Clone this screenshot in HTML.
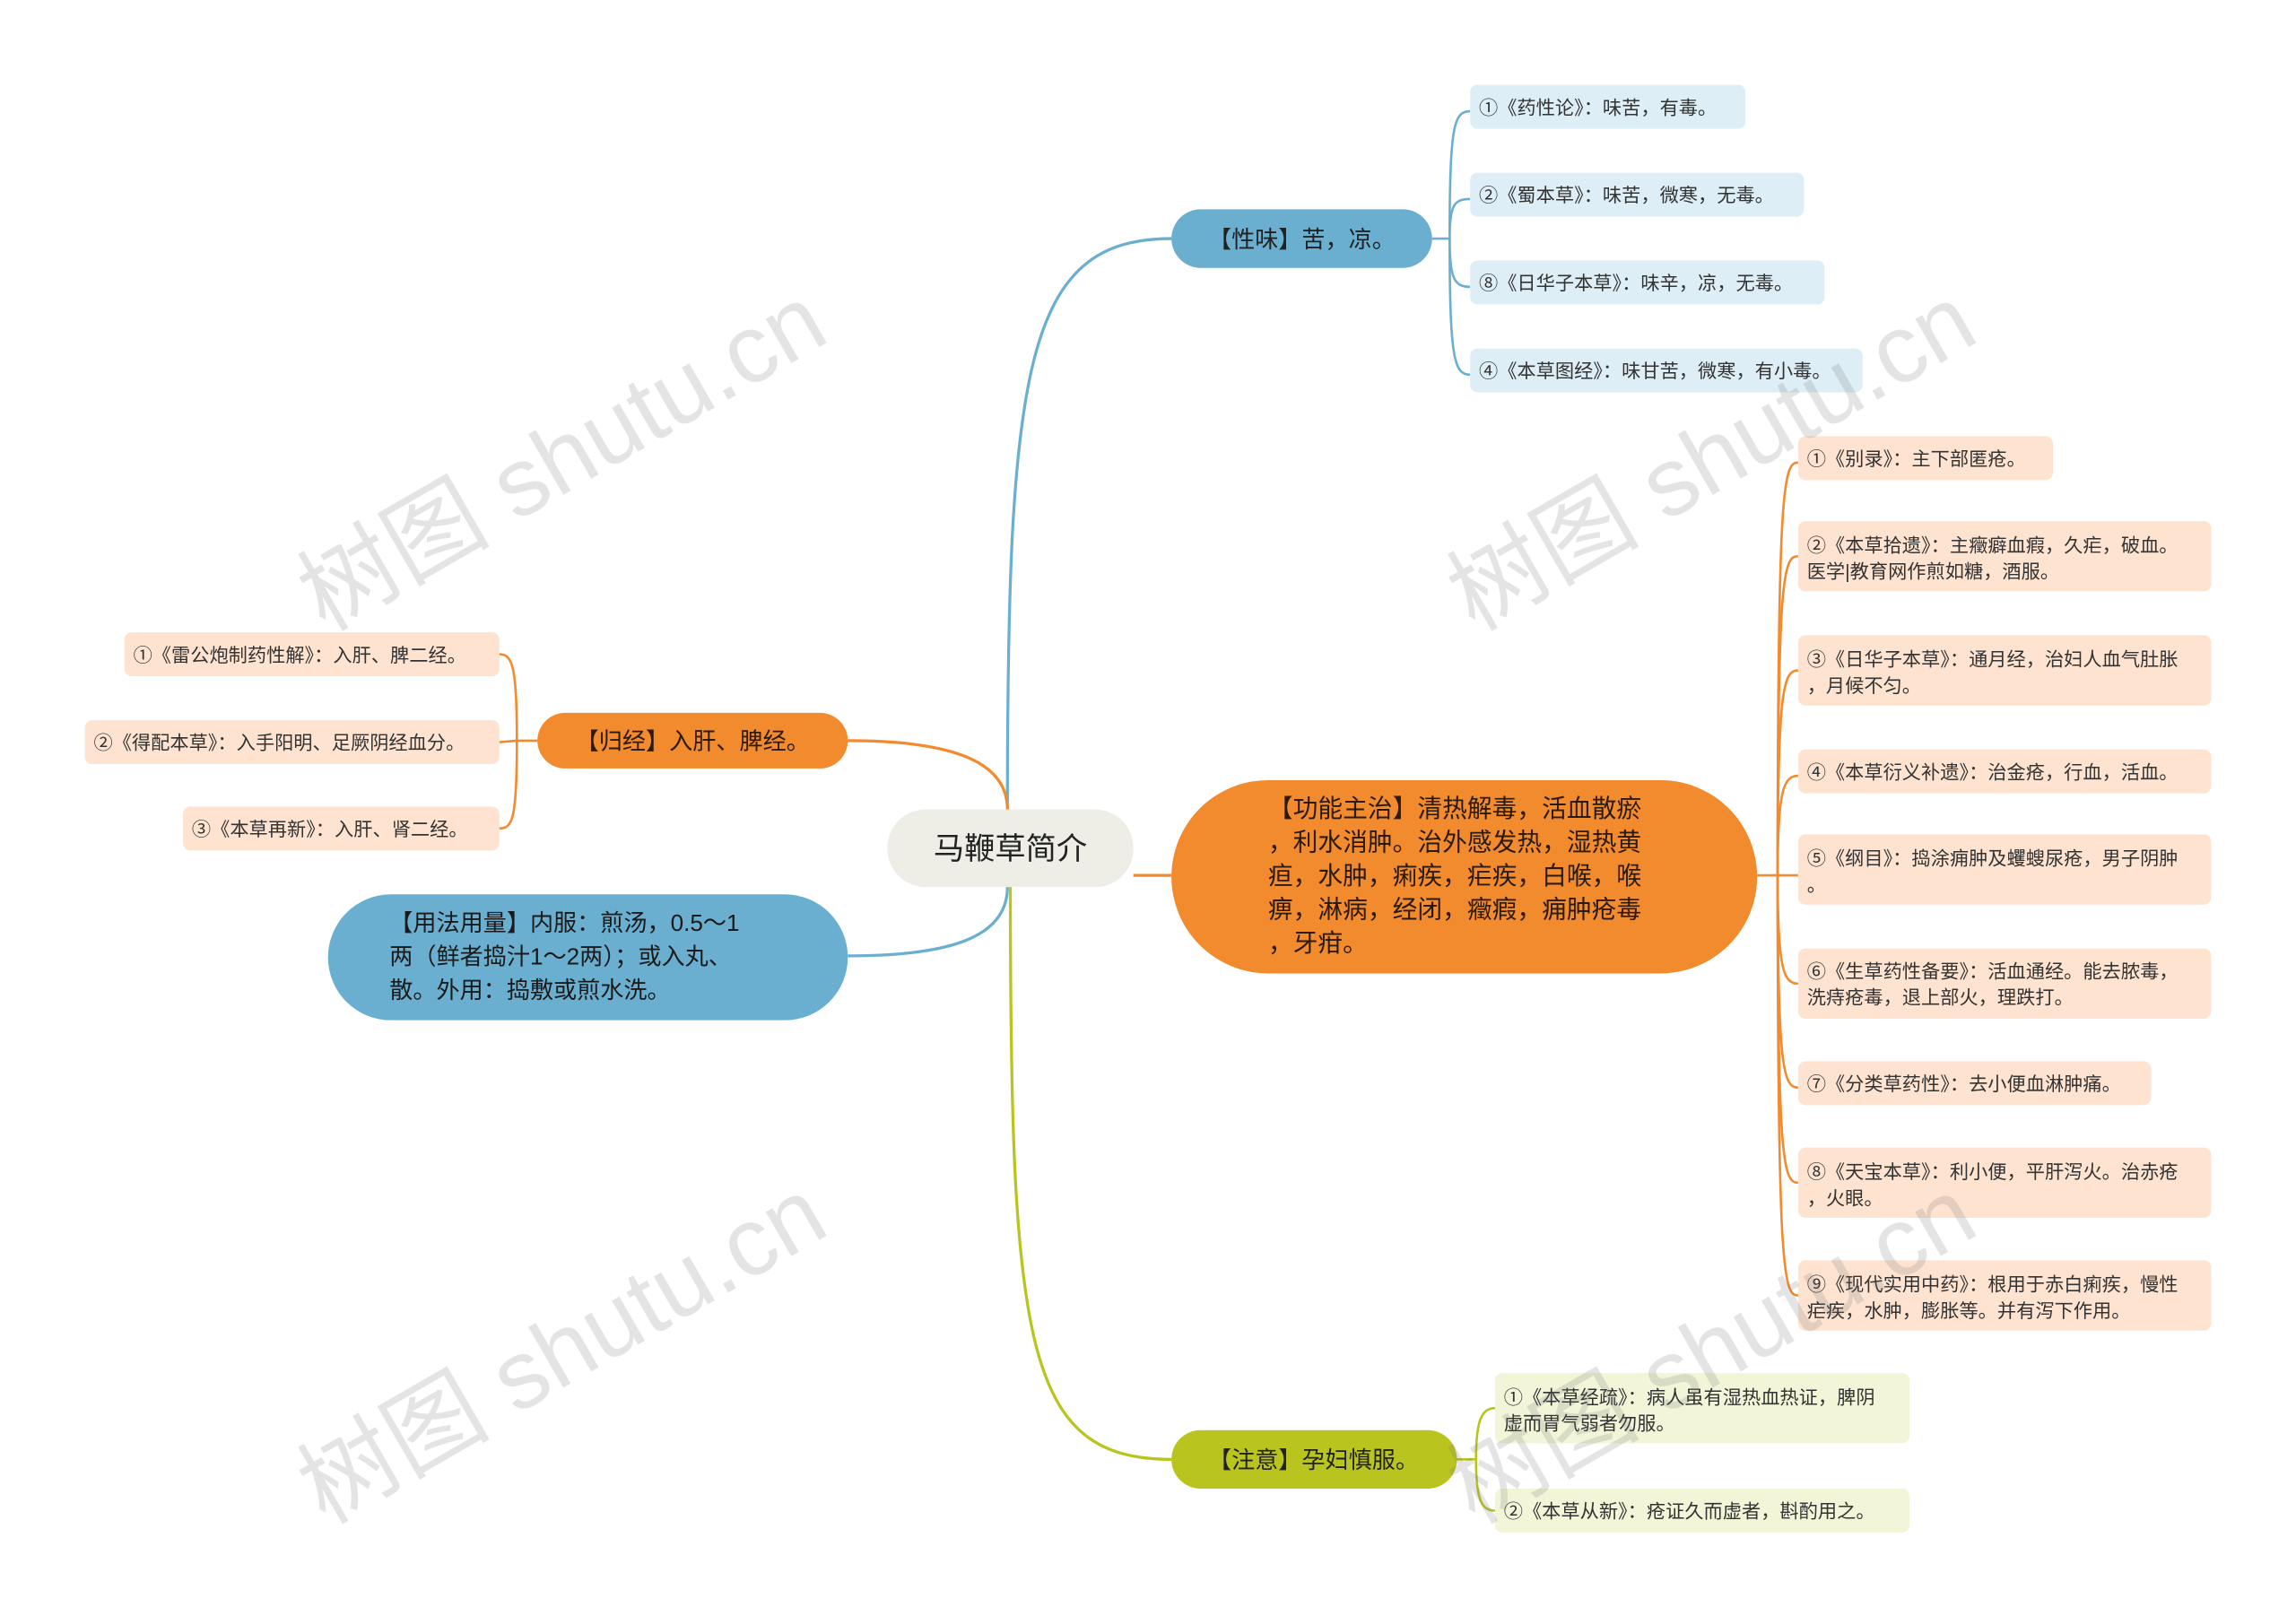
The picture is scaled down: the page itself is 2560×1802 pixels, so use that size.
<!DOCTYPE html>
<html><head><meta charset="utf-8"><style>
html,body{margin:0;padding:0;background:#fff;}
svg{display:block;}
text{font-family:"Liberation Sans","Noto Sans CJK SC",sans-serif;}
</style></head><body>
<svg width="2560" height="1802" viewBox="0 0 1568 1104" preserveAspectRatio="none" xmlns="http://www.w3.org/2000/svg">
<rect width="1568" height="1104" fill="#fff"/>
<g fill="none" stroke-width="2">
<path d="M688 553 C688 250 700 163 800 163" stroke="#6aafd0"/>
<path d="M688 553 C688 520 650 506 579 506" stroke="#f28a2e"/>
<path d="M774 598 L800 598" stroke="#f28a2e"/>
<path d="M688 606 C688 640 650 653 579 653" stroke="#6aafd0"/>
<path d="M690 606 C690 920 700 997 800 997" stroke="#b9c41e"/>
</g>
<g fill="none" stroke-width="1.6">
<g stroke="#6aafd0">
<path d="M978 163 L990 163"/>
<path d="M990 163 C990 85 993 76 1004 76"/>
<path d="M990 163 C990 140 993 136 1004 136"/>
<path d="M990 163 C990 190 993 196 1004 196"/>
<path d="M990 163 C990 245 993 256 1004 256"/>
</g>
<g stroke="#f28a2e">
<path d="M1200 598 L1214 598"/>
<path d="M1214 598 C1214 330 1218 316 1228 316"/>
<path d="M1214 598 C1214 392 1218 380 1228 380"/>
<path d="M1214 598 C1214 470 1218 458 1228 458"/>
<path d="M1214 598 C1214 540 1218 530 1228 530"/>
<path d="M1214 598 L1228 598"/>
<path d="M1214 598 C1214 662 1218 672 1228 672"/>
<path d="M1214 598 C1214 730 1218 743 1228 743"/>
<path d="M1214 598 C1214 795 1218 808 1228 808"/>
<path d="M1214 598 C1214 870 1218 885 1228 885"/>
<path d="M367 506 L353 506"/>
<path d="M353 506 C353 455 350 447 341 447"/>
<path d="M353 506 L341 507"/>
<path d="M353 506 C353 560 350 566 341 566"/>
</g>
<g stroke="#b9c41e">
<path d="M995 997 L1008 997"/>
<path d="M1008 997 C1008 970 1012 962 1021 962"/>
<path d="M1008 997 C1008 1025 1012 1032 1021 1032"/>
</g>
</g>
<rect x="606" y="553" width="168" height="53" rx="26" fill="#eeeee6"/>
<text x="690" y="587" font-size="21" fill="#222" text-anchor="middle">马鞭草简介</text>
<rect x="800" y="143" width="178" height="40" rx="20" fill="#6aafd0"/>
<text x="889" y="169" font-size="16" fill="#222" text-anchor="middle">【性味】苦，凉。</text>
<rect x="800" y="533" width="400" height="132" rx="66" fill="#f28a2e"/>
<g font-size="17" fill="#2a1a0a">
<text x="866" y="558">【功能主治】清热解毒，活血散瘀</text>
<text x="866" y="581">，利水消肿。治外感发热，湿热黄</text>
<text x="866" y="604">疸，水肿，痢疾，疟疾，白喉，喉</text>
<text x="866" y="627">痹，淋病，经闭，癥瘕，痈肿疮毒</text>
<text x="866" y="650">，牙疳。</text>
</g>
<rect x="367" y="487" width="212" height="38" rx="19" fill="#f28a2e"/>
<text x="473" y="512" font-size="16" fill="#2a1a0a" text-anchor="middle">【归经】入肝、脾经。</text>
<rect x="224" y="611" width="355" height="86" rx="43" fill="#6aafd0"/>
<g font-size="16" fill="#1a1a1a">
<text x="266" y="636">【用法用量】内服：煎汤，0.5～1</text>
<text x="266" y="659">两（鲜者捣汁1～2两）；或入丸、</text>
<text x="266" y="682">散。外用：捣敷或煎水洗。</text>
</g>
<rect x="800" y="977" width="195" height="40" rx="20" fill="#b9c41e"/>
<text x="897" y="1003" font-size="16" fill="#222" text-anchor="middle">【注意】孕妇慎服。</text>
<g font-size="13" fill="#333">
<rect x="1004" y="58" width="188" height="30" rx="5" fill="#ddeef6"/><text x="1010" y="78">①《药性论》：味苦，有毒。</text>
<rect x="1004" y="118" width="228" height="30" rx="5" fill="#ddeef6"/><text x="1010" y="138">②《蜀本草》：味苦，微寒，无毒。</text>
<rect x="1004" y="178" width="242" height="30" rx="5" fill="#ddeef6"/><text x="1010" y="198">⑧《日华子本草》：味辛，凉，无毒。</text>
<rect x="1004" y="238" width="268" height="30" rx="5" fill="#ddeef6"/><text x="1010" y="258">④《本草图经》：味甘苦，微寒，有小毒。</text>
</g>
<g font-size="13" fill="#333">
<rect x="1228" y="298" width="174" height="30" rx="5" fill="#fde3d0"/><text x="1234" y="318">①《别录》：主下部匿疮。</text>
<rect x="1228" y="356" width="282" height="48" rx="5" fill="#fde3d0"/><text x="1234" y="377">②《本草拾遗》：主癥癖血瘕，久疟，破血。</text><text x="1234" y="395">医学|教育网作煎如糖，酒服。</text>
<rect x="1228" y="434" width="282" height="48" rx="5" fill="#fde3d0"/><text x="1234" y="455">③《日华子本草》：通月经，治妇人血气肚胀</text><text x="1234" y="473">，月候不匀。</text>
<rect x="1228" y="512" width="282" height="30" rx="5" fill="#fde3d0"/><text x="1234" y="532">④《本草衍义补遗》：治金疮，行血，活血。</text>
<rect x="1228" y="570" width="282" height="48" rx="5" fill="#fde3d0"/><text x="1234" y="591">⑤《纲目》：捣涂痈肿及蠼螋尿疮，男子阴肿</text><text x="1234" y="609">。</text>
<rect x="1228" y="648" width="282" height="48" rx="5" fill="#fde3d0"/><text x="1234" y="668">⑥《生草药性备要》：活血通经。能去脓毒，</text><text x="1234" y="686">洗痔疮毒，退上部火，理跌打。</text>
<rect x="1228" y="725" width="241" height="30" rx="5" fill="#fde3d0"/><text x="1234" y="745">⑦《分类草药性》：去小便血淋肿痛。</text>
<rect x="1228" y="784" width="282" height="48" rx="5" fill="#fde3d0"/><text x="1234" y="805">⑧《天宝本草》：利小便，平肝泻火。治赤疮</text><text x="1234" y="823">，火眼。</text>
<rect x="1228" y="861" width="282" height="48" rx="5" fill="#fde3d0"/><text x="1234" y="882">⑨《现代实用中药》：根用于赤白痢疾，慢性</text><text x="1234" y="900">疟疾，水肿，膨胀等。并有泻下作用。</text>
</g>
<g font-size="13" fill="#333">
<rect x="85" y="432" width="256" height="30" rx="5" fill="#fde3d0"/><text x="91" y="452">①《雷公炮制药性解》：入肝、脾二经。</text>
<rect x="58" y="492" width="283" height="30" rx="5" fill="#fde3d0"/><text x="64" y="512">②《得配本草》：入手阳明、足厥阴经血分。</text>
<rect x="125" y="551" width="216" height="30" rx="5" fill="#fde3d0"/><text x="131" y="571">③《本草再新》：入肝、肾二经。</text>
</g>
<g font-size="13" fill="#333">
<rect x="1021" y="938" width="283" height="48" rx="5" fill="#f2f5d8"/><text x="1027" y="959">①《本草经疏》：病人虽有湿热血热证，脾阴</text><text x="1027" y="977">虚而胃气弱者勿服。</text>
<rect x="1021" y="1017" width="283" height="30" rx="5" fill="#f2f5d8"/><text x="1027" y="1037">②《本草从新》：疮证久而虚者，斟酌用之。</text>
</g>
<g font-size="66" fill="rgba(120,120,120,0.2)" font-family="Liberation Serif,Noto Serif CJK SC,serif">
<text transform="translate(222,432) rotate(-30)">树图 shutu.cn</text>
<text transform="translate(1007,432) rotate(-30)">树图 shutu.cn</text>
<text transform="translate(222,1042) rotate(-30)">树图 shutu.cn</text>
<text transform="translate(1007,1042) rotate(-30)">树图 shutu.cn</text>
</g>
</svg>
</body></html>
